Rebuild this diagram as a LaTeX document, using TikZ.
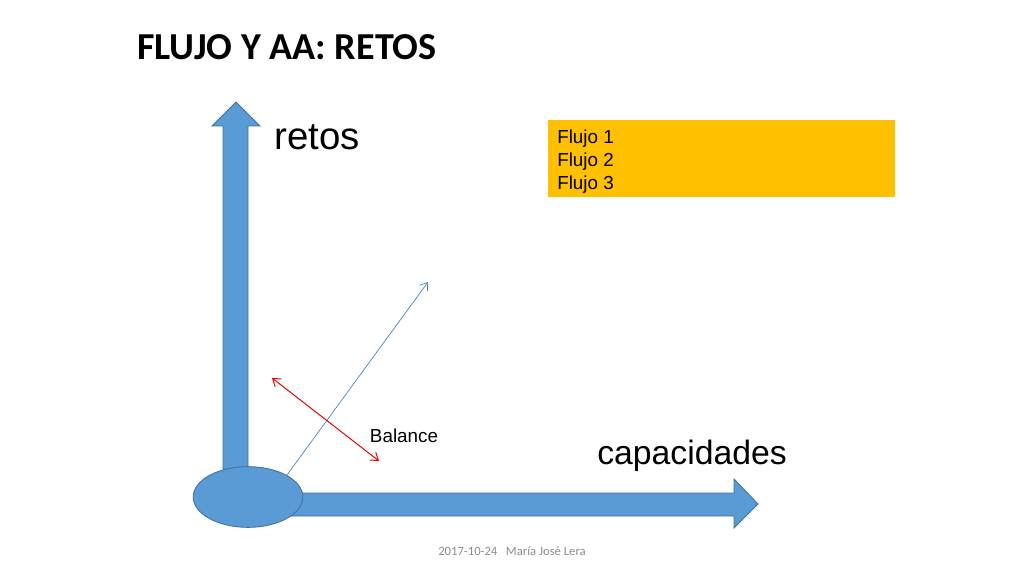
\documentclass[tikz,border=0pt]{standalone}
\usepackage{fontspec}
\setmainfont{Liberation Sans}
\newfontfamily\calibri{Carlito}
\usetikzlibrary{shapes.geometric,arrows.meta}
\definecolor{ejeazul}{HTML}{5B9BD5}
\definecolor{bordeazul}{HTML}{41719C}
\definecolor{cajaoro}{HTML}{FFC000}
\definecolor{pie}{HTML}{8C8C8C}
\tikzset{
  eje/.style={fill=ejeazul, draw=bordeazul, line width=0.6pt},
  etiqueta/.style={inner sep=0pt, font=\fontsize{13.4}{16}\selectfont},
}

\begin{document}
\begin{tikzpicture}[x=0.025cm, y=-0.025cm]
    \useasboundingbox (0,0) rectangle (1024,576);
    % titulo
    \node[inner sep=0pt, anchor=west, font=\calibri\bfseries\fontsize{27.1}{32}\selectfont]
      (titulo) at (137,47) {FLUJO Y AA: RETOS};
    % ejes
    \draw[eje] (223,475) -- (223,126) -- (212,126) -- (236,102)
      -- (260,126) -- (248,126) -- (248,475) -- cycle;
    \draw[eje] (280,493) -- (734,493) -- (734,479) -- (758,504)
      -- (734,528) -- (734,516) -- (280,516) -- cycle;
    \node[ellipse, eje, minimum width=78pt, minimum height=43.2pt, inner sep=0pt]
      (origen) at (248,497) {};
    \node[inner sep=0pt, anchor=west, font=\fontsize{27.3}{32}\selectfont]
      (retos) at (274,137) {retos};
    \node[inner sep=0pt, anchor=west, font=\fontsize{24}{29}\selectfont]
      (capacidades) at (597,456) {capacidades};
    % flujos
    \node[fill=cajaoro, minimum width=246.6pt, minimum height=54.6pt, anchor=north west,
      inner sep=0pt] (caja) at (548,120) {};
    \node[etiqueta, anchor=north west, align=left, font=\fontsize{13.4}{16.3}\selectfont]
      (flujos) at (557,130) {Flujo 1\\Flujo 2\\Flujo 3};
    % lineas
    \coordinate (inicio) at (287,475);
    \coordinate (meta) at (428,282);
    \draw[ejeazul!85!black, line width=0.5pt, -{Straight Barb[length=5pt,width=7pt]}]
      (inicio) -- (meta);
    \coordinate (izq) at (272,378);
    \coordinate (der) at (379,461);
    \draw[red!90!black, line width=0.7pt,
      {Straight Barb[length=5pt,width=7pt]}-{Straight Barb[length=5pt,width=7pt]}]
      (izq) -- (der);
    \node[etiqueta] (balance) at (404,436) {Balance};
    % pie
    \node[inner sep=0pt, text=pie, font=\calibri\fontsize{9}{11}\selectfont]
      (fecha) at (512,551) {2017-10-24\ \ \ María José Lera};
\end{tikzpicture}
\end{document}
